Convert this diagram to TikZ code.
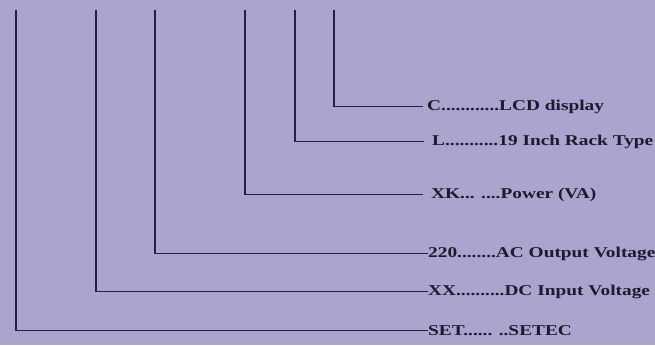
\documentclass[tikz,border=0pt]{standalone}
\usepackage{fontspec}
\setmainfont{Liberation Serif}
\usepackage{xcolor}
\definecolor{bgpurple}{RGB}{172,163,206}
\definecolor{lineink}{RGB}{38,32,62}
\definecolor{textink}{RGB}{30,26,46}
\newcommand{\widetext}[1]{\scalebox{1.29}[1]{#1}}

\begin{document}
\begin{tikzpicture}[x=1pt, y=1pt,
    lead/.style={draw=lineink, line width=1.4pt},
    code/.style={anchor=mid west, inner sep=0pt, text=textink,
      font=\fontsize{15}{18}\selectfont\bfseries}]
  % Background
  \fill[bgpurple] (0,0) rectangle (655,345);
  \useasboundingbox (0,0) rectangle (655,345);

  % Tops of the lead lines
  \coordinate (tset) at (16,335);
  \coordinate (txx)  at (96,335);
  \coordinate (tac)  at (155,335);
  \coordinate (tva)  at (245,335);
  \coordinate (trk)  at (295,335);
  \coordinate (tlcd) at (334,335);

  % Labels on the right
  \node[code] (lcd) at (427,237) {\widetext{C............LCD display}};
  \node[code] (rk)  at (432,202) {\widetext{L...........19 Inch Rack Type}};
  \node[code] (va)  at (431,149) {\widetext{XK... ....Power (VA)}};
  \node[code] (ac)  at (428,90)  {\widetext{220........AC Output Voltage}};
  \node[code] (xx)  at (428,52)  {\widetext{XX..........DC Input Voltage}};
  \node[code] (set) at (428,12)  {\widetext{SET...... ..SETEC}};

  % Lead lines
  \draw[lead] (tlcd) |- ([xshift=-4pt]lcd.west);
  \draw[lead] (trk)  |- ([xshift=-8pt]rk.west);
  \draw[lead] (tva)  |- ([xshift=-8pt]va.west);
  \draw[lead] (tac)  |- (ac.west);
  \draw[lead] (txx)  |- (xx.west);
  \draw[lead] (tset) |- (set.west);
\end{tikzpicture}
\end{document}
